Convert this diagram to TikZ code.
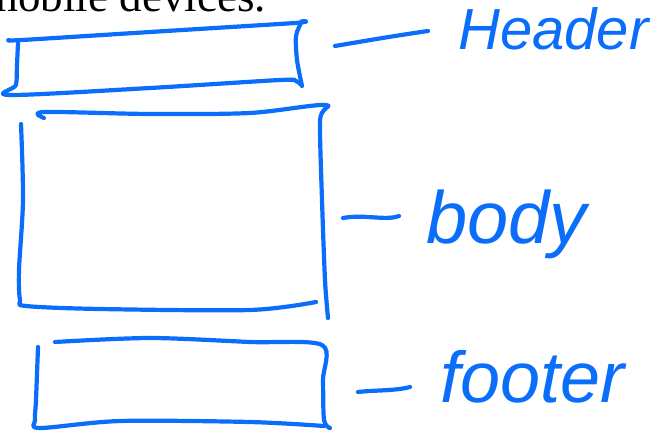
\documentclass[tikz,border=0pt]{standalone}
\usepackage{fontspec}
\setmainfont{Liberation Serif}
\newfontfamily\handfont{Liberation Sans}
\definecolor{pen}{RGB}{10,110,250}
\begin{document}
\begin{tikzpicture}[x=1pt,y=-1pt,
  stroke/.style={draw=pen,line width=4.2pt,line cap=round,line join=round},
  hand/.style={text=pen,inner sep=0pt,anchor=base west,font=\handfont\itshape},
  caption/.style={inner sep=0pt,anchor=base east,font=\fontsize{45}{50}\selectfont}]
\useasboundingbox (0,0) rectangle (658,433);
% cut-off text at the top
\node[caption] (top) at (266,12) {mobile devices.};
% header box
\draw[stroke] plot[smooth,tension=0.5] coordinates {(9,40) (22,40) (150,32) (295,23) (301,22) (296,36) (297,60) (302,86)};
\draw[stroke] plot[smooth,tension=0.5] coordinates {(18,43) (17,65) (16,85) (10,95) (150,88) (280,80) (296,81) (300,84)};
% body box
\draw[stroke] plot[smooth,tension=0.5] coordinates {(44,118) (44,112) (150,114) (250,113) (325,105) (320,120) (322,200) (325,280) (328,318)};
\draw[stroke] plot[smooth,tension=0.5] coordinates {(21,124) (23,200) (19,270) (20,300) (26,306) (100,309) (250,310) (316,302)};
% footer box
\draw[stroke] plot[smooth,tension=0.5] coordinates {(55,342) (150,338) (250,342) (322,345) (323,380) (324,420) (330,428)};
\draw[stroke] plot[smooth,tension=0.5] coordinates {(38,347) (36,400) (35,420) (40,428) (120,421) (250,422) (324,426)};
% labels
\coordinate (hd1) at (335,46); \coordinate (hd2) at (428,31);
\coordinate (bd1) at (343,218); \coordinate (bd2) at (399,216);
\coordinate (fd1) at (358,392); \coordinate (fd2) at (410,387);
\draw[stroke] (hd1) .. controls (370,40) and (400,35) .. (hd2);
\draw[stroke] (bd1) .. controls (365,214) and (385,221) .. (bd2);
\draw[stroke] (fd1) .. controls (375,390) and (395,391) .. (fd2);
\node[hand,font=\handfont\itshape\fontsize{58}{60}\selectfont] (header) at (458,50) {Header};
\node[hand,font=\handfont\itshape\fontsize{74}{76}\selectfont] (body) at (426,243) {body};
\node[hand,font=\handfont\itshape\fontsize{72}{74}\selectfont] (footer) at (440,402) {footer};
\end{tikzpicture}
\end{document}
